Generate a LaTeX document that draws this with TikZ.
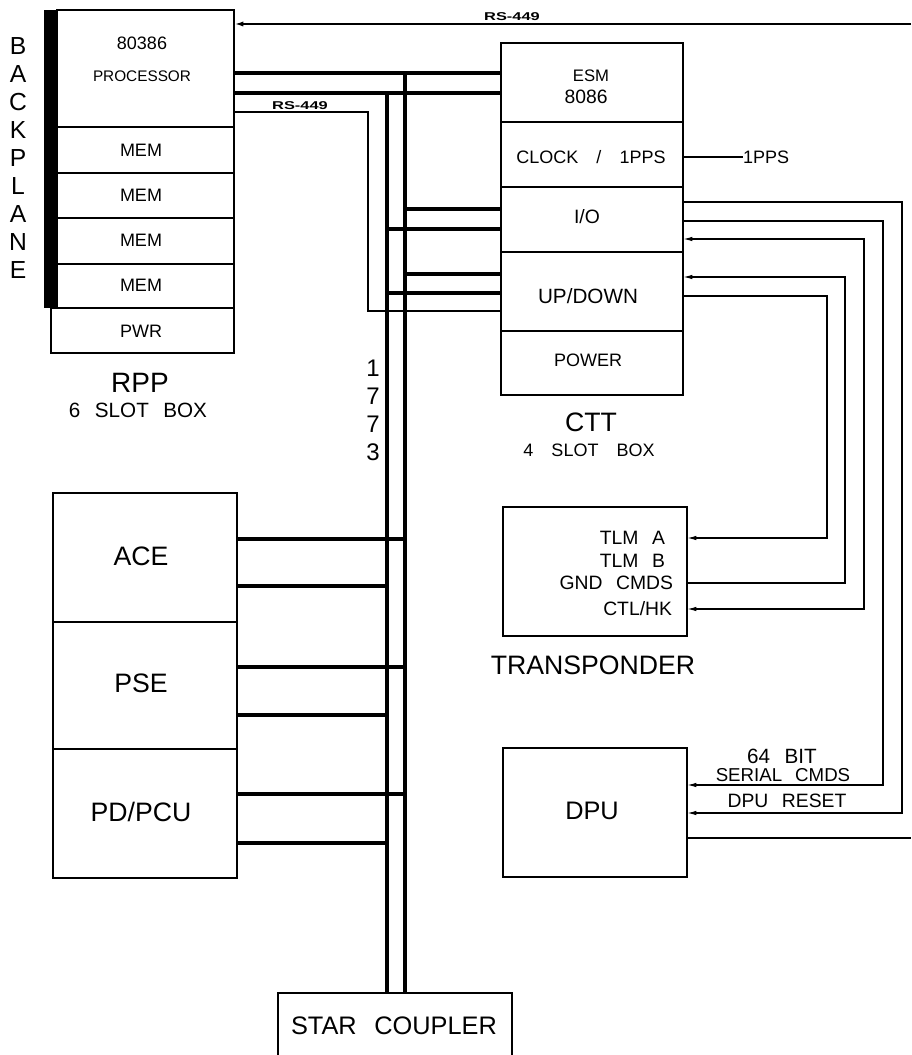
\documentclass[tikz,border=0pt]{standalone}
\usepackage{fontspec}
\setmainfont{Liberation Sans}
\usetikzlibrary{arrows.meta,calc}
\newcommand\fsz[1]{\fontsize{#1}{#1}\selectfont}
\newcommand\wsp{\hspace{0.7em}}
\newcommand\wwsp{\hspace{1em}}
\newcommand\bbox[5]{\node[box,minimum width=#4*0.75pt,minimum height=#5*0.75pt] (#1) at (#2,#3) {};}
\begin{document}
\begin{tikzpicture}[x=0.75pt,y=-0.75pt,
  box/.style={draw,line width=1pt,inner sep=0pt,outer sep=0pt,anchor=north west},
  txt/.style={inner sep=0pt,outer sep=0pt,anchor=center},
  bus/.style={line width=2.6pt},
  wire/.style={line width=1pt},
  thinw/.style={line width=0.85pt},
  tip/.style={-{Latex[length=7pt,width=3.4pt]}},
  tips/.style={{Latex[length=7pt,width=3.4pt]}-{Latex[length=7pt,width=3.4pt]}},
]
\useasboundingbox (0,0) rectangle (911,1055);

% ---------- RPP ----------
\node[fill=black,inner sep=0pt,outer sep=0pt,anchor=north west,minimum width=13*0.75pt,minimum height=298*0.75pt] (bp) at (44,10) {};
\bbox{proc}{57}{10}{177}{117}
\bbox{mem1}{57}{127}{177}{46}
\bbox{mem2}{57}{173}{177}{45}
\bbox{mem3}{57}{218}{177}{46}
\bbox{mem4}{57}{264}{177}{44}
\bbox{pwr}{51}{308}{183}{45}
\node[txt,font=\fsz{13.5}] (t80386) at (142,43) {80386};
\node[txt,font=\fsz{11.5}] (tproc) at (142,76) {PROCESSOR};
\node[txt,font=\fsz{13.5}] (tm1) at (141,150) {MEM};
\node[txt,font=\fsz{13.5}] (tm2) at (141,195) {MEM};
\node[txt,font=\fsz{13.5}] (tm3) at (141,240) {MEM};
\node[txt,font=\fsz{13.5}] (tm4) at (141,285) {MEM};
\node[txt,font=\fsz{13.5}] (tpwr) at (141,331) {PWR};
\node[txt,font=\fsz{21}] (trpp) at (140,383) {RPP};
\node[txt,font=\fsz{15.5}] (tslot6) at (138,410) {6\wsp SLOT\wsp BOX};
\node[txt,font=\fontsize{18.5}{21}\selectfont,align=center] (tbp) at (18,158) {B\\A\\C\\K\\P\\L\\A\\N\\E};

% ---------- CTT ----------
\bbox{esm}{501}{43}{182}{79}
\bbox{clk}{501}{122}{182}{65}
\bbox{io}{501}{187}{182}{65}
\bbox{ud}{501}{252}{182}{79}
\bbox{pow}{501}{331}{182}{64}
\node[txt,font=\fsz{12.5}] (tesm) at (591,76) {ESM};
\node[txt,font=\fsz{14.5}] (t8086) at (586,97) {8086};
\node[txt,font=\fsz{13.5}] (tclk) at (591,157) {CLOCK\wwsp/\wwsp1PPS};
\node[txt,font=\fsz{14.5}] (tio) at (587,217) {I/O};
\node[txt,font=\fsz{15.5}] (tud) at (588,296) {UP/DOWN};
\node[txt,font=\fsz{13.5}] (tpow) at (588,360) {POWER};
\node[txt,font=\fsz{20}] (tctt) at (591,422) {CTT};
\node[txt,font=\fsz{13.5}] (tslot4) at (589,450) {4\wwsp SLOT\wwsp BOX};
\node[txt,font=\fsz{13.5},anchor=west] (pps) at (743,157) {1PPS};
\draw[wire] (clk.east |- pps.west) -- (pps.west);

% ---------- Transponder / DPU ----------
\bbox{tr}{503}{507}{184}{129}
\bbox{dpu}{503}{748}{184}{129}
\node[txt,font=\fsz{14.5},anchor=east] (ttlma) at (665,538) {TLM\wsp A};
\node[txt,font=\fsz{14.5},anchor=east] (ttlmb) at (665,561) {TLM\wsp B};
\node[txt,font=\fsz{14.5},anchor=east] (tgnd) at (673,583) {GND\wsp CMDS};
\node[txt,font=\fsz{14.5},anchor=east] (tctl) at (672,609) {CTL/HK};
\node[txt,font=\fsz{20}] (ttrans) at (593,665) {TRANSPONDER};
\node[txt,font=\fsz{19}] (tdpu) at (592,811) {DPU};
\node[txt,font=\fsz{15.5}] (t64) at (782,756) {64\wsp BIT};
\node[txt,font=\fsz{14}] (tser) at (783,775) {SERIAL\wsp CMDS};
\node[txt,font=\fsz{14.5}] (trst) at (787,801) {DPU\wsp RESET};

% ---------- ACE / PSE / PD ----------
\bbox{ace}{53}{493}{184}{129}
\bbox{pse}{53}{622}{184}{127}
\bbox{pd}{53}{749}{184}{129}
\node[txt,font=\fsz{20}] (tace) at (141,556) {ACE};
\node[txt,font=\fsz{20}] (tpse) at (141,683) {PSE};
\node[txt,font=\fsz{20}] (tpd) at (141,812) {PD/PCU};

% ---------- Star coupler ----------
\bbox{star}{278}{993}{234}{90}
\node[txt,font=\fsz{19}] (tstar) at (394,1026) {STAR\wsp COUPLER};

% ---------- 1773 bus ----------
\coordinate (busR) at (405,73);
\coordinate (busL) at (387,93);
\node[txt,font=\fontsize{18}{21}\selectfont,align=center] (t1773) at (373,410) {1\\7\\7\\3};
\draw[bus] (busR) -- (busR |- star.north);
\draw[bus] (busL) -- (busL |- star.north);
\draw[bus] (proc.east |- 0,73) -- (esm.west |- 0,73);
\draw[bus] (proc.east |- 0,93) -- (esm.west |- 0,93);
\draw[bus] (busR |- 0,209) -- (io.west |- 0,209);
\draw[bus] (busL |- 0,229) -- (io.west |- 0,229);
\draw[bus] (busR |- 0,274) -- (ud.west |- 0,274);
\draw[bus] (busL |- 0,293) -- (ud.west |- 0,293);
\draw[bus] (ace.east |- 0,539) -- (busR |- 0,539);
\draw[bus] (ace.east |- 0,586) -- (busL |- 0,586);
\draw[bus] (pse.east |- 0,667) -- (busR |- 0,667);
\draw[bus] (pse.east |- 0,715) -- (busL |- 0,715);
\draw[bus] (pd.east |- 0,794) -- (busR |- 0,794);
\draw[bus] (pd.east |- 0,843) -- (busL |- 0,843);

% ---------- RS-449 ----------
\coordinate (rsR) at (911,24);
\draw[line width=1.5pt,-{Latex[length=7pt,width=3.8pt]}] (rsR) -- (proc.east |- rsR);
\node[txt,font=\fsz{8.5}\bfseries] (rs1) at (512,17) {\scalebox{1.45}[1]{RS-449}};
\draw[thinw] (proc.east |- 0,112) -| (368,311) -- (ud.west |- 0,311);
\node[txt,font=\fsz{8.5}\bfseries] (rs2) at (300,106) {\scalebox{1.45}[1]{RS-449}};

% ---------- CTT <-> transponder / DPU ----------
\draw[wire,tip] (io.east |- 0,202) -| (902,813) -- (dpu.east |- 0,813);
\draw[wire,tip] (io.east |- 0,221) -| (883,785) -- (dpu.east |- 0,785);
\draw[wire,tips] (io.east |- 0,239) -| (864,609) -- (tr.east |- 0,609);
\draw[wire,tip] (tr.east |- 0,583) -| (845,277) -- (ud.east |- 0,277);
\draw[wire,tip] (ud.east |- 0,296) -| (827,538) -- (tr.east |- 0,538);
\coordinate (dpuR) at (911,838);
\draw[wire] (dpu.east |- dpuR) -- (dpuR);
\end{tikzpicture}
\end{document}
